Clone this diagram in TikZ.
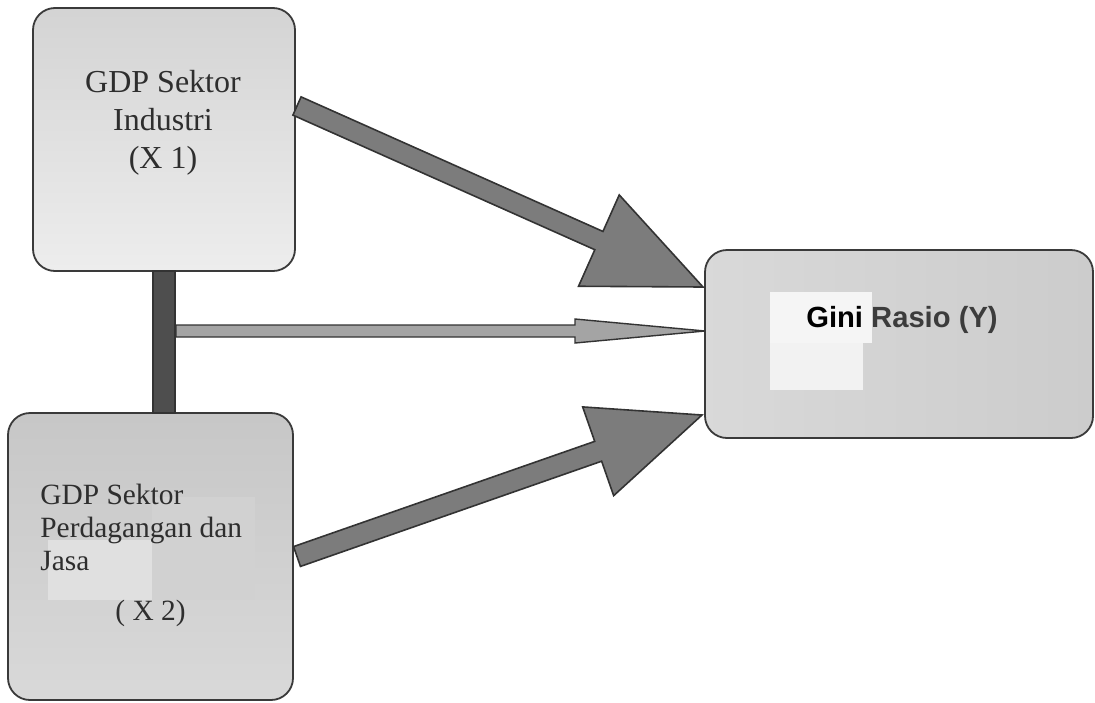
\documentclass[tikz,border=0pt]{standalone}
\usepackage{fontspec}
\setmainfont{Liberation Serif}
\setsansfont{Liberation Sans}
\usetikzlibrary{calc}
\definecolor{boxline}{HTML}{3A3A3A}
\definecolor{arrowfill}{HTML}{7C7C7C}
\definecolor{arrowline}{HTML}{333333}
\definecolor{midfill}{HTML}{A4A4A4}
\definecolor{barfill}{HTML}{4E4E4E}
\definecolor{txt}{HTML}{2E2E2E}
\definecolor{rasio}{HTML}{3C3C3C}
\tikzset{
  box/.style={draw=boxline, line width=0.9pt, rounded corners=11pt, inner sep=0pt, outer sep=0pt},
  fatarrow/.style={fill=arrowfill, draw=arrowline, line width=0.8pt, line join=miter},
  thinarrow/.style={fill=midfill, draw=arrowline, line width=0.7pt, line join=miter},
  barstyle/.style={fill=barfill, draw=arrowline, line width=0.6pt},
  patch/.style={fill=#1, draw=none},
  serif16/.style={font=\fontsize{16}{19}\selectfont, text=txt, inner sep=0pt},
  serif15/.style={font=\fontsize{14.7}{16.5}\selectfont, text=txt, inner sep=0pt},
  sansb/.style={font=\sffamily\bfseries\fontsize{14.6}{17}\selectfont, inner sep=0pt},
}
% #1 style, #2 start, #3 tip, #4 shaft half width, #5 head half width, #6 head length
\newcommand\blockarrow[6][]{%
  \coordinate (ba-b) at ($(#3)!#6!(#2)$);
  \draw[#1] ($(#2)!#4!90:(#3)$) -- ($(ba-b)!#4!90:(#3)$) -- ($(ba-b)!#5!90:(#3)$)
    -- (#3) -- ($(ba-b)!#5!-90:(#3)$) -- ($(ba-b)!#4!-90:(#3)$)
    -- ($(#2)!#4!-90:(#3)$) -- cycle;
}
\begin{document}
\begin{tikzpicture}[x=0.5pt, y=-0.5pt]
\useasboundingbox[fill=white] (0,0) rectangle (1095,702);

% boxes
\node[box, minimum width=131pt, minimum height=131.5pt, top color=black!17, bottom color=black!7] (x1) at (164,139.5) {};
\node[box, minimum width=142.5pt, minimum height=143.5pt, top color=black!22, bottom color=black!15] (x2) at (150.5,556.5) {};
\node[box, minimum width=194pt, minimum height=94pt, left color=black!15, right color=black!20] (y) at (899,344) {};

% light patches
\fill[patch=black!12] (48,540) rectangle (152,600);
\fill[patch=black!18] (152,497) rectangle (255,600);
\fill[patch=black!4] (770,292) rectangle (872,343);
\fill[patch=black!5] (770,343) rectangle (863,390);

% texts
\node[serif16, align=center] (t1) at ($(x1.north)+(-1,115)$) {GDP Sektor\\Industri\\(X 1)};
\node[serif15, align=left, anchor=west] (t2) at ($(x2.west)+(32,-29)$) {GDP Sektor\\Perdagangan dan\\Jasa};
\node[serif15] (t2b) at ($(x2.north)+(0,200)$) {( X 2)};
\node[sansb] (t3) at ($(y.center)+(3,-24)$) {Gini \textcolor{rasio}{Rasio (Y)}};

% vertical bar between the two X boxes
\draw[barstyle] ($(x1.south)+(-11,0)$) rectangle ($(x1.south |- x2.north)+(11,0)$);

% connector coordinates
\coordinate (s1) at ($(x1.east)+(2,-33.5)$);
\coordinate (e1) at ($(y.west)+(-2,-57)$);
\coordinate (s2) at ($(x2.east)+(4,0)$);
\coordinate (e2) at ($(y.west)+(-3,71)$);
\coordinate (s3) at ($(x1.south)+(12,60)$);
\coordinate (e3) at ($(y.west)+(0,-13)$);

\blockarrow[fatarrow]{s1}{e1}{5pt}{25pt}{57pt}
\blockarrow[fatarrow]{s2}{e2}{5.25pt}{23.5pt}{55pt}
\blockarrow[thinarrow]{s3}{e3}{3pt}{6pt}{65pt}
\end{tikzpicture}
\end{document}
